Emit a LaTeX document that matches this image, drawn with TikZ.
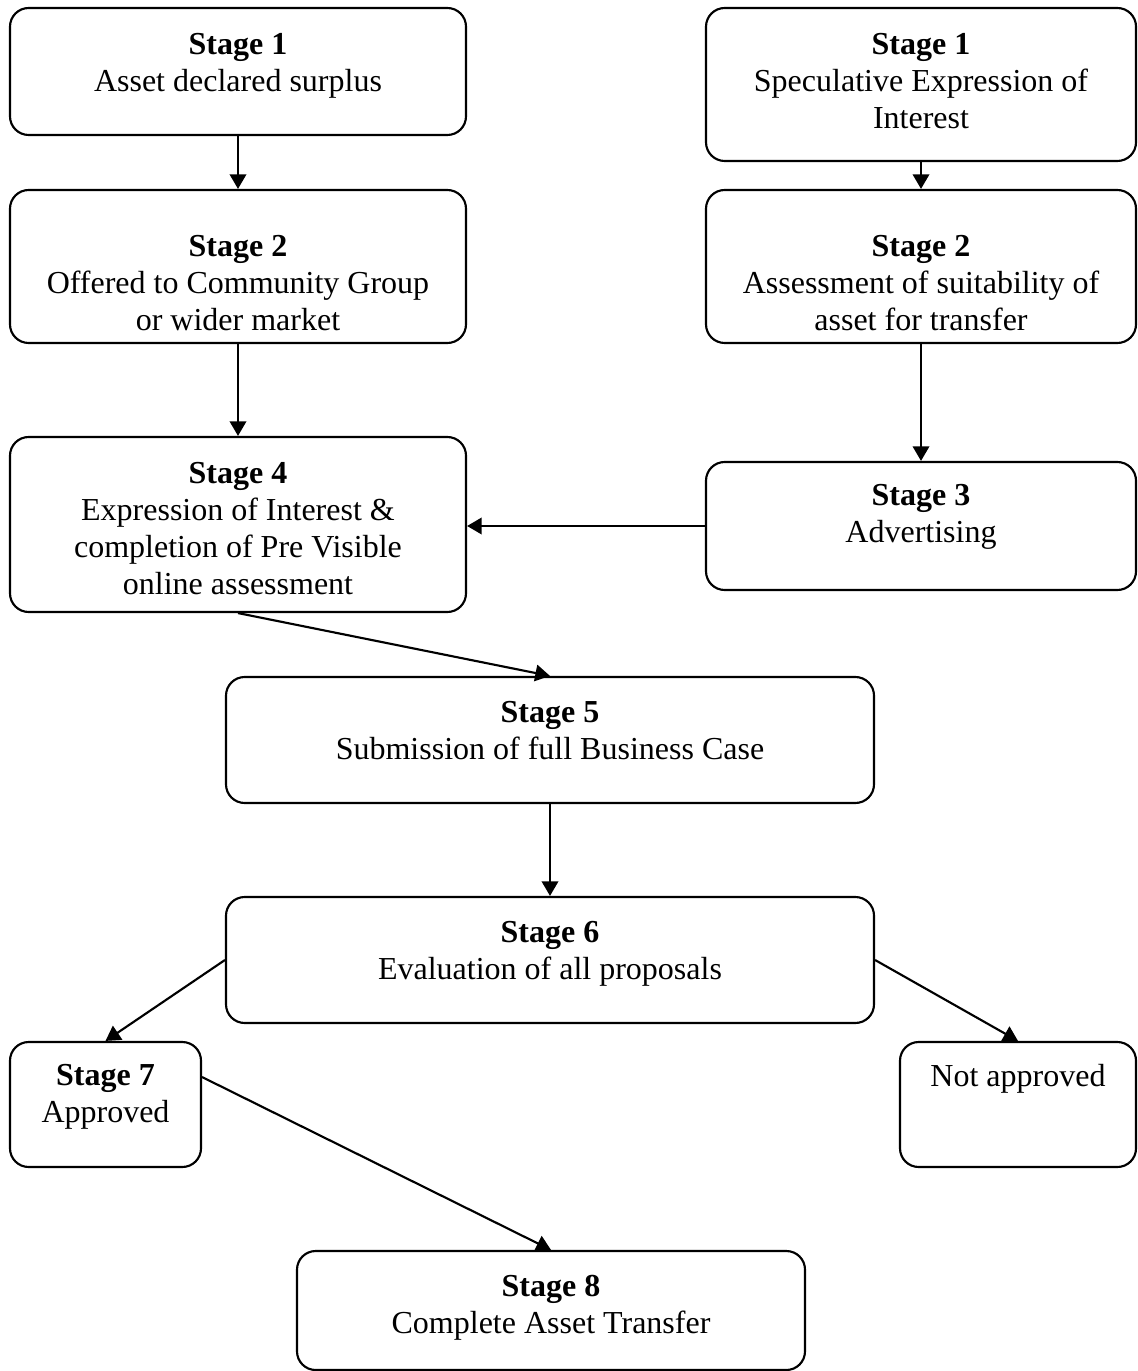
\documentclass[tikz,border=0pt]{standalone}
\usepackage{fontspec}
\setmainfont{Liberation Serif}
\usetikzlibrary{fit,arrows.meta,calc}
\tikzset{
  box/.style={draw, line width=0.8pt, rounded corners=7pt, inner sep=0pt},
  txt/.style={align=center, inner sep=0pt, anchor=north, font=\fontsize{12}{13.9}\selectfont},
  conn/.style={draw, line width=0.8pt, -{Triangle[length=5.5pt,width=6.2pt]}}
}
\begin{document}
\begin{tikzpicture}[x=0.375pt,y=-0.375pt]
\useasboundingbox (0,0) rectangle (1137,1371);
% boxes
\node[box, fit={(10,8) (466,135)}] (l1) {};
\node[box, fit={(706,8) (1136,161)}] (r1) {};
\node[box, fit={(10,190) (466,343)}] (l2) {};
\node[box, fit={(706,190) (1136,343)}] (r2) {};
\node[box, fit={(10,437) (466,612)}] (l4) {};
\node[box, fit={(706,462) (1136,590)}] (r3) {};
\node[box, fit={(226,677) (874,803)}] (s5) {};
\node[box, fit={(226,897) (874,1023)}] (s6) {};
\node[box, fit={(10,1042) (201,1167)}] (s7) {};
\node[box, fit={(900,1042) (1136,1167)}] (na) {};
\node[box, fit={(297,1251) (805,1370)}] (s8) {};
% texts
\node[txt] (l1t) at ([yshift=-9.8pt]l1.north) {\textbf{Stage 1}\\Asset declared surplus};
\node[txt] (r1t) at ([yshift=-9.8pt]r1.north) {\textbf{Stage 1}\\Speculative Expression of\\Interest};
\node[txt] (l2t) at ([yshift=-17.3pt]l2.north) {\textbf{Stage 2}\\Offered to Community Group\\or wider market};
\node[txt] (r2t) at ([yshift=-17.3pt]r2.north) {\textbf{Stage 2}\\Assessment of suitability of\\asset for transfer};
\node[txt] (l4t) at ([yshift=-9.8pt]l4.north) {\textbf{Stage 4}\\Expression of Interest \&\\completion of Pre Visible\\online assessment};
\node[txt] (r3t) at ([yshift=-8.5pt]r3.north) {\textbf{Stage 3}\\Advertising};
\node[txt] (s5t) at ([yshift=-9.2pt]s5.north) {\textbf{Stage 5}\\Submission of full Business Case};
\node[txt] (s6t) at ([yshift=-9.2pt]s6.north) {\textbf{Stage 6}\\Evaluation of all proposals};
\node[txt] (s7t) at ([yshift=-8.5pt]s7.north) {\textbf{Stage 7}\\Approved};
\node[txt] (nat) at ([yshift=-8.5pt]na.north) {Not approved};
\node[txt] (s8t) at ([yshift=-9.2pt]s8.north) {\textbf{Stage 8}\\Complete Asset Transfer};
% connectors
\draw[conn] (l1.south) -- (l2.north);
\draw[conn] (r1.south) -- (r2.north);
\draw[conn] (l2.south) -- (l4.north);
\draw[conn] (r2.south) -- (r3.north);
\draw[conn] (r3.west) -- (r3.west -| l4.east);
\draw[conn] (l4.south) -- (s5.north);
\draw[conn] (s5.south) -- (s6.north);
\draw[conn] (s6.west) -- (s7.north);
\draw[conn] (s6.east) -- (na.north);
\draw[conn] ([yshift=10.3pt]s7.east) -- (s8.north);
\end{tikzpicture}
\end{document}
